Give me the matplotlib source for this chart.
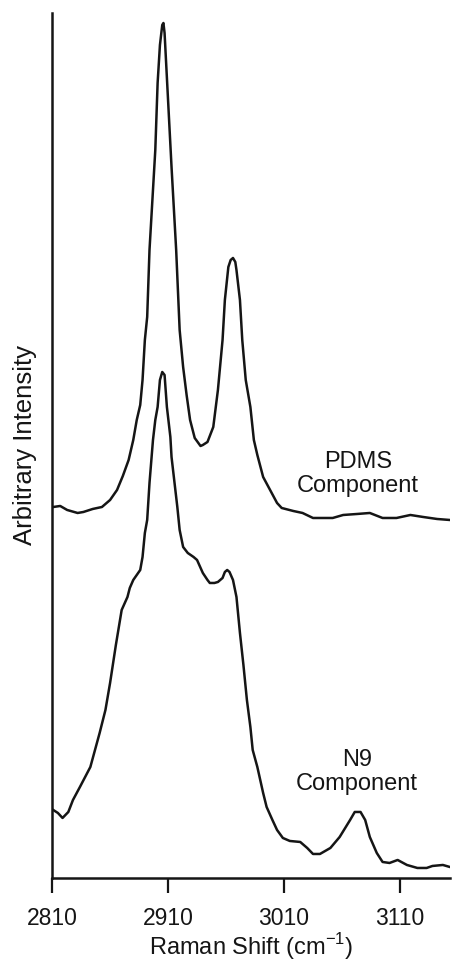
import matplotlib.pyplot as plt

plt.rcParams['font.family'] = ['Liberation Sans', 'DejaVu Sans']

# Raman shift (cm-1) and intensity (arbitrary)
pdms_shift = [2811, 2817, 2823, 2832, 2837, 2845, 2853, 2860, 2866, 2871,
              2876, 2880, 2883, 2886, 2888, 2890, 2892, 2894, 2897, 2899,
              2901, 2903, 2905, 2906, 2907, 2910, 2913, 2917, 2920, 2923,
              2926, 2929, 2933, 2938, 2940, 2944, 2949, 2953, 2957, 2959,
              2962, 2964, 2966, 2968, 2969, 2972, 2974, 2977, 2981, 2984,
              2987, 2992, 2998, 3004, 3008, 3018, 3026, 3035, 3044, 3052,
              3061, 3073, 3084, 3095, 3107, 3119, 3130, 3142, 3153]
pdms_int = [371, 372, 368, 365, 366, 369, 371, 378, 388, 402,
            418, 438, 458, 473, 498, 538, 561, 628, 688, 728,
            795, 833, 853, 855, 845, 778, 711, 628, 548, 511,
            483, 458, 440, 432, 433, 436, 451, 488, 538, 578,
            611, 618, 620, 616, 608, 578, 538, 498, 471, 438,
            423, 401, 388, 375, 370, 367, 365, 360, 360, 360,
            363, 364, 365, 360, 360, 363, 361, 359, 358]

n9_shift = [2811, 2815, 2819, 2824, 2828, 2834, 2843, 2851, 2856, 2860,
            2865, 2870, 2875, 2877, 2880, 2883, 2886, 2888, 2890, 2892,
            2894, 2897, 2899, 2901, 2903, 2905, 2907, 2909, 2912, 2913,
            2918, 2920, 2923, 2927, 2932, 2935, 2940, 2944, 2946, 2950,
            2953, 2957, 2959, 2961, 2963, 2966, 2969, 2972, 2975, 2978,
            2981, 2983, 2987, 2992, 2995, 3000, 3004, 3009, 3015, 3024,
            3030, 3035, 3041, 3050, 3058, 3067, 3071, 3076, 3080, 3084,
            3090, 3095, 3101, 3108, 3116, 3125, 3133, 3138, 3147, 3153]
n9_int = [68, 65, 60, 66, 78, 91, 111, 145, 168, 195,
          233, 268, 281, 290, 298, 303, 308, 321, 345, 358,
          395, 438, 458, 471, 498, 506, 503, 471, 441, 421,
          371, 348, 331, 325, 321, 318, 305, 298, 295, 295,
          296, 300, 306, 308, 306, 298, 281, 245, 213, 178,
          151, 128, 111, 85, 71, 58, 48, 40, 37, 36,
          30, 24, 24, 30, 41, 58, 66, 66, 58, 41,
          25, 16, 15, 18, 13, 10, 10, 12, 13, 11]

ink = '#151515'

fig = plt.figure(figsize=(4.53, 9.63), dpi=100)
ax = fig.add_axes([0.115, 0.0883, 0.878, 0.8982])

ax.plot(pdms_shift, pdms_int, color=ink, lw=1.8, solid_joinstyle='round')
ax.plot(n9_shift, n9_int, color=ink, lw=1.8, solid_joinstyle='round')

ax.text(3074, 404, 'PDMS\nComponent', ha='center', va='center', fontsize=17,
        linespacing=1.15, color=ink)
ax.text(3073, 106, 'N9\nComponent', ha='center', va='center', fontsize=17,
        linespacing=1.15, color=ink)

ax.set_xlim(2810, 3153)
ax.set_ylim(0, 865)
ax.set_xticks([2810, 2910, 3010, 3110])
ax.set_yticks([])
ax.tick_params(axis='x', direction='out', length=11, width=1.6, pad=10,
               labelsize=16.5, colors=ink)
for s in ['top', 'right']:
    ax.spines[s].set_visible(False)
for s in ['left', 'bottom']:
    ax.spines[s].set_linewidth(1.8)
    ax.spines[s].set_color(ink)

ax.set_xlabel('Raman Shift (cm$^{\\mathregular{-1}}$)', fontsize=17, labelpad=1,
              color=ink)
ax.set_ylabel('Arbitrary Intensity', fontsize=18.5, labelpad=11, color=ink)

fig.savefig('out.png', dpi=100)
